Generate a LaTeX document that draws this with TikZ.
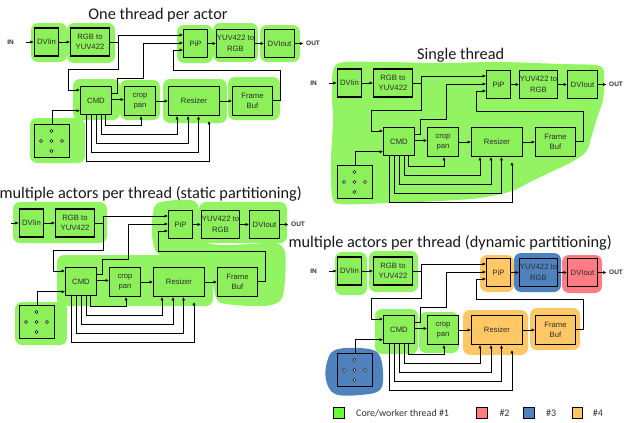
\documentclass[tikz,border=0pt]{standalone}
\usepackage{fontspec}
\setmainfont{Carlito}
\newfontfamily\boxfont{Liberation Sans}
\usetikzlibrary{arrows.meta,calc}
\definecolor{gfill}{RGB}{140,240,90}
\definecolor{gblob}{RGB}{146,244,98}
\definecolor{glegend}{RGB}{102,255,51}
\definecolor{rfill}{RGB}{255,125,130}
\definecolor{bfill}{RGB}{79,129,189}
\definecolor{yfill}{RGB}{255,200,100}
\definecolor{txt}{RGB}{45,45,45}
\tikzset{
 blk/.style={draw=black, line width=1.4pt, inner sep=0pt, align=center, font=\boxfont\fontsize{7.7}{10.5}\selectfont, text=txt},
 wire/.style={draw=black, line width=0.7pt},
 arr/.style={wire, -{Latex[length=3.4pt,width=3.2pt]}},
 io/.style={font=\boxfont\bfseries\fontsize{6.5}{7}\selectfont, text=txt, inner sep=0pt},
 ttl/.style={font=\fontsize{16.3}{18}\selectfont, inner sep=0pt, text=black!90},
 halo/.style={fill=#1, rounded corners=7pt},
 dot/.style={draw=black, fill=white, line width=0.5pt},
 legsq/.style={draw=black, line width=0.8pt, minimum size=10.5pt, inner sep=0pt},
 legtx/.style={font=\fontsize{10}{12}\selectfont, inner sep=0pt, anchor=west, text=black!80},
}
\newcommand\mydiag[3]{%
\begin{scope}[shift={(#2,#3)}]
 \node[blk, fill=\cdvi, minimum width=24, minimum height=28] (#1dvi) at (349.5,83) {DVIin};
 \node[blk, fill=\crgb, minimum width=38.5, minimum height=28] (#1rgb) at (393,83) {RGB to\\YUV422};
 \node[blk, fill=\cpip, minimum width=23.5, minimum height=28] (#1pip) at (498.5,84.5) {PiP};
 \node[blk, fill=\cyuv, minimum width=37.5, minimum height=28] (#1yuv) at (538.5,84.5) {YUV422 to\\RGB};
 \node[blk, fill=\cdvo, minimum width=29.5, minimum height=28] (#1dvo) at (582.5,84.5) {DVIout};
 \node[blk, fill=\ccmd, minimum width=30.5, minimum height=28] (#1cmd) at (399,141.5) {CMD};
 \node[blk, fill=\ccrop, minimum width=30.5, minimum height=28.5] (#1crop) at (443,142) {crop\\pan};
 \node[blk, fill=\crsz, minimum width=50.5, minimum height=28.5] (#1rsz) at (497,142) {Resizer};
 \node[blk, fill=\cfb, minimum width=39.5, minimum height=28.5] (#1fb) at (555.5,142) {Frame\\Buf};
 \node[blk, fill=\ckey, minimum width=34.5, minimum height=32.5] (#1key) at (355,182) {};
 \foreach \p in {(354.5,172),(354.5,182),(354.5,192),(344,182),(365,182)} \draw[dot] \p circle (1.6);
 \node[io, anchor=east] (#1in) at (317,83) {IN};
 \coordinate (#1ins) at (329,83);
 \coordinate (#1j) at (421.5,83);
 \draw[arr] (#1ins) -- (#1dvi.west);
 \draw[arr] (#1dvi.east) -- (#1rgb.west);
 \draw[arr] (#1rgb.east) -- (#1j) -- (421.5,76) -- (#1pip.west |- 0,76);
 \draw[arr] (#1j) -- (421.5,110) -- (371.5,110) -- (371.5,131) -- (#1cmd.west |- 0,131);
 \draw[arr] (#1cmd.east |- 0,134) -- (420,134) -- (420,119.5) -- (446.5,119.5) -- (446.5,84) -- (#1pip.west |- 0,84);
 \draw[arr] (#1cmd.east |- 0,140.5) -- (#1crop.west |- 0,140.5);
 \draw[arr] (#1crop.east) -- (#1rsz.west);
 \draw[arr] (#1rsz.east) -- (#1fb.west);
 \draw[arr] (#1fb.east |- 0,141) -- (583.5,141) -- (583.5,111) -- (476,111) -- (476,91) -- (#1pip.west |- 0,91);
 \draw[arr] (#1pip.east) -- (#1yuv.west);
 \draw[arr] (#1yuv.east) -- (#1dvo.west);
 \coordinate (#1outs) at (606.5,84.5);
 \draw[arr] (#1dvo.east) -- (#1outs);
 \node[io, anchor=west] (#1out) at (609,84.5) {OUT};
 \draw[arr] (#1key.north) -- (#1key.north |- 0,151.7) -- (#1cmd.west |- 0,151.7);
 \draw[arr] (#1cmd.south -| 408.5,0) -- (408.5,166) -- (444,166) -- (#1crop.south -| 444,0);
 \draw[arr] (#1cmd.south -| 404,0) -- (404,175) -- (480,175) -- (#1rsz.south -| 480,0);
 \draw[arr] (#1cmd.south -| 399,0) -- (399,184) -- (491,184) -- (#1rsz.south -| 491,0);
 \draw[arr] (#1cmd.south -| 394.5,0) -- (394.5,193) -- (501.5,193) -- (#1rsz.south -| 501.5,0);
 \coordinate (#1rszlow) at (512,162);
 \draw[arr] (#1cmd.south -| 389.5,0) -- (389.5,202.5) -- (512,202.5) -- (#1rszlow);
\end{scope}}
\begin{document}
\begin{tikzpicture}[x=1pt,y=-1pt]
\useasboundingbox (0,0) rectangle (627,423);
% ---------- halos ----------
% diagram 1
\foreach \a/\b/\c/\d in {31/23/67/62, 67/23/115/63, 177/25/213/63, 213/23/258/62, 260/25/300/62,
  73/79/120/120, 120/80/160/120, 163/79/227/123, 228/77/280/120, 30/118/85/163}
  \fill[halo=gblob] (\a,\b) rectangle (\c,\d);
% diagram 2
\fill[gblob] plot[smooth cycle, tension=0.5] coordinates {(337,64) (380,62) (440,63) (500,62) (560,64) (600,66) (604,80) (603,100) (597,118) (592,135) (586,152) (570,163) (553,171) (530,182) (512,191) (480,198) (440,201) (390,203) (340,204) (332,195) (331,160) (333,120) (332,90)};
% diagram 3
\foreach \a/\b/\c/\d in {13/202/107/243, 199/202/287/243, 57/255/213/306, 15/302/67/345}
  \fill[halo=gblob] (\a,\b) rectangle (\c,\d);
\fill[gblob] plot[smooth cycle, tension=0.5] coordinates {(158,203) (178,200) (196,202) (200,220) (202,240) (220,245) (250,244) (276,243) (285,252) (285,280) (281,300) (265,306) (235,305) (218,301) (213,283) (212,264) (203,258) (175,257) (157,253) (152,235) (153,213)};
% diagram 4
\foreach \a/\b/\c/\d in {335/252/367/295, 369/251/418/292, 375/309/418/354, 419/312/459/353}
  \fill[halo=gblob] (\a,\b) rectangle (\c,\d);
\foreach \a/\b/\c/\d in {480/255/514/292, 463/310/528/355, 530/308/580/350}
  \fill[halo=yfill] (\a,\b) rectangle (\c,\d);
\foreach \a/\b/\c/\d in {514/253/561/292}
  \fill[halo=bfill] (\a,\b) rectangle (\c,\d);
\fill[bfill] plot[smooth cycle, tension=0.6] coordinates {(335,350) (360,348) (378,353) (383,372) (380,390) (360,395) (335,394) (326,380) (327,362)};
\fill[halo=rfill] (562,255) rectangle (602,293);
% ---------- diagrams ----------
\def\cdvi{gfill}\def\crgb{gfill}\def\cpip{gfill}\def\cyuv{gfill}\def\cdvo{gfill}%
\def\ccmd{gfill}\def\ccrop{gfill}\def\crsz{gfill}\def\cfb{gfill}\def\ckey{gfill}%
\mydiag{a}{-303}{-41}
\mydiag{b}{0}{0}
\mydiag{c}{-318}{140}
\def\cpip{yfill}\def\cyuv{bfill}\def\cdvo{rfill}\def\crsz{yfill}\def\cfb{yfill}\def\ckey{bfill}%
\mydiag{d}{0}{188}
% ---------- titles ----------
\node[ttl] (t1) at (158,15) {One thread per actor};
\node[ttl] (t2) at (460.7,55) {Single thread};
\node[ttl, anchor=east] (t3) at (302,194) {multiple actors per thread (static partitioning)};
\node[ttl, anchor=east] (t4) at (612,243.3) {multiple actors per thread (dynamic partitioning)};
% ---------- legend ----------
\node[legsq, fill=glegend] (lg1) at (338.7,412.8) {};
\node[legtx] (lt1) at (356,412.8) {Core/worker thread \#1};
\node[legsq, fill=rfill] (lg2) at (481.7,412.8) {};
\node[legtx] (lt2) at (499.3,412.8) {\#2};
\node[legsq, fill=bfill] (lg3) at (528.8,412.8) {};
\node[legtx] (lt3) at (546,412.8) {\#3};
\node[legsq, fill=yfill] (lg4) at (577.2,412.8) {};
\node[legtx] (lt4) at (592.7,412.8) {\#4};
\end{tikzpicture}
\end{document}
